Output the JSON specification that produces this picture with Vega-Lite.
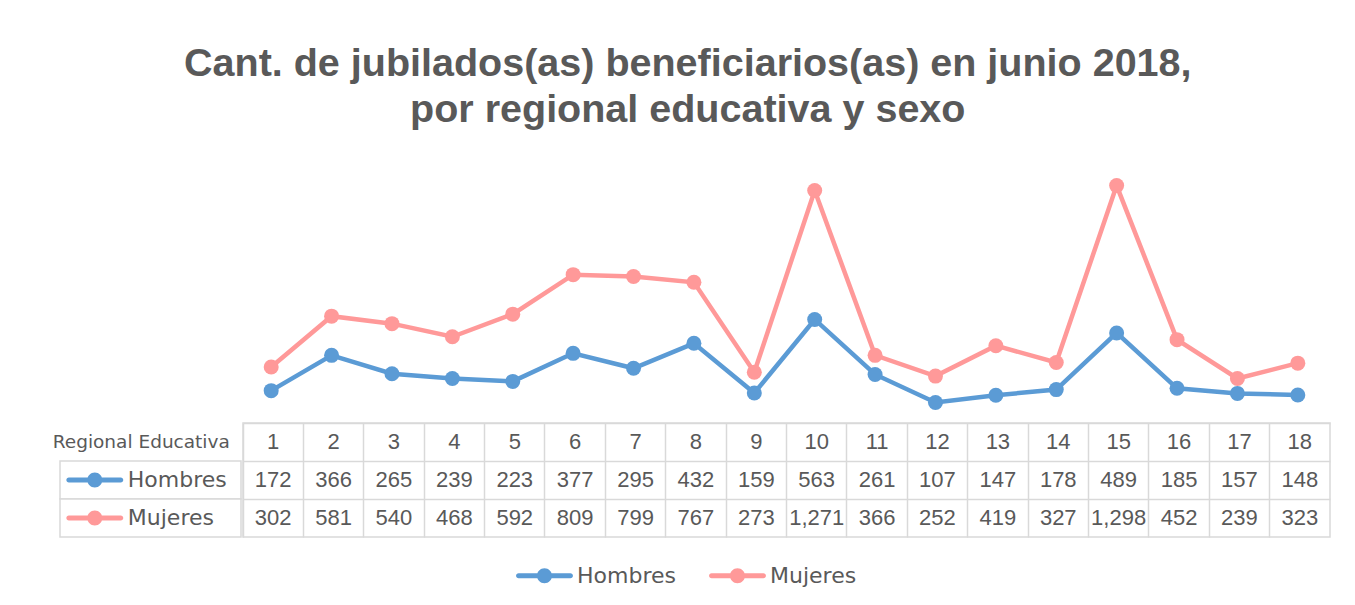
{
  "$schema": "https://vega.github.io/schema/vega-lite/v6.json",
  "padding": {"left": 52, "top": 43, "right": 10, "bottom": 10},
  "background": "white",
  "datasets": {
    "wide": [
      {"region": 1, "Hombres": 172, "Mujeres": 302},
      {"region": 2, "Hombres": 366, "Mujeres": 581},
      {"region": 3, "Hombres": 265, "Mujeres": 540},
      {"region": 4, "Hombres": 239, "Mujeres": 468},
      {"region": 5, "Hombres": 223, "Mujeres": 592},
      {"region": 6, "Hombres": 377, "Mujeres": 809},
      {"region": 7, "Hombres": 295, "Mujeres": 799},
      {"region": 8, "Hombres": 432, "Mujeres": 767},
      {"region": 9, "Hombres": 159, "Mujeres": 273},
      {"region": 10, "Hombres": 563, "Mujeres": 1271},
      {"region": 11, "Hombres": 261, "Mujeres": 366},
      {"region": 12, "Hombres": 107, "Mujeres": 252},
      {"region": 13, "Hombres": 147, "Mujeres": 419},
      {"region": 14, "Hombres": 178, "Mujeres": 327},
      {"region": 15, "Hombres": 489, "Mujeres": 1298},
      {"region": 16, "Hombres": 185, "Mujeres": 452},
      {"region": 17, "Hombres": 157, "Mujeres": 239},
      {"region": 18, "Hombres": 148, "Mujeres": 323}
    ]
  },
  "title": {
    "text": ["Cant. de jubilados(as) beneficiarios(as) en junio 2018,", "por regional educativa y sexo"],
    "font": "Liberation Sans",
    "fontSize": 39.5,
    "fontWeight": "bold",
    "color": "#595959",
    "lineHeight": 46,
    "anchor": "middle",
    "offset": 37,
    "dx": -4
  },
  "config": {
    "view": {"stroke": null},
    "concat": {"spacing": 0}
  },
  "spacing": 0,
  "vconcat": [
    {
      "spacing": 0,
      "hconcat": [
        {
          "width": 181,
          "height": 255,
          "data": {"values": [{}]},
          "mark": {"type": "text", "text": ""},
          "encoding": {}
        },
        {
          "width": 1087,
          "height": 255,
          "data": {"name": "wide"},
          "transform": [{"fold": ["Hombres", "Mujeres"], "as": ["sexo", "value"]}],
          "mark": {"type": "line", "strokeWidth": 4.5, "point": {"filled": true, "size": 225, "opacity": 1}},
          "encoding": {
            "x": {"field": "region", "type": "ordinal", "scale": {"type": "point", "padding": 0.5}, "axis": null},
            "y": {"field": "value", "type": "quantitative", "scale": {"domain": [0, 1400]}, "axis": null},
            "color": {
              "field": "sexo",
              "type": "nominal",
              "scale": {"domain": ["Hombres", "Mujeres"], "range": ["#5B9BD5", "#FF9999"]},
              "legend": {
                "orient": "none",
                "legendX": 456,
                "legendY": 380,
                "direction": "horizontal",
                "title": null,
                "symbolType": "M-0.91,-0.088 L0.91,-0.088 A0.088,0.088 0 0,1 0.91,0.088 L-0.91,0.088 A0.088,0.088 0 0,1 -0.91,-0.088 Z M0.263,0 A0.263,0.263 0 1,1 -0.263,0 A0.263,0.263 0 1,1 0.263,0 Z",
                "symbolSize": 3249,
                "symbolStrokeWidth": 0,
                "symbolOpacity": 1,
                "labelFont": "DejaVu Sans",
                "labelFontSize": 22,
                "labelColor": "#595959",
                "labelOffset": 4,
                "columnPadding": 33,
                "encode": {"symbols": {"update": {"fill": {"scale": "color", "field": "value"}, "opacity": {"value": 1}}}}
              }
            }
          }
        }
      ]
    },
    {
      "spacing": 0,
      "hconcat": [
        {
          "width": 181,
          "height": 114,
          "data": {"values": [{"sexo": "Hombres"}, {"sexo": "Mujeres"}]},
          "encoding": {
            "y": {
              "field": "sexo",
              "type": "nominal",
              "scale": {"type": "band", "domain": ["Regional Educativa", "Hombres", "Mujeres"], "paddingInner": 0, "paddingOuter": 0},
              "axis": null
            }
          },
          "layer": [
            {"mark": {"type": "rect", "fill": "white", "stroke": "#d9d9d9", "strokeWidth": 1.5}},
            {
              "mark": {
                "type": "point",
                "shape": "M-0.91,-0.088 L0.91,-0.088 A0.088,0.088 0 0,1 0.91,0.088 L-0.91,0.088 A0.088,0.088 0 0,1 -0.91,-0.088 Z M0.263,0 A0.263,0.263 0 1,1 -0.263,0 A0.263,0.263 0 1,1 0.263,0 Z",
                "filled": true,
                "size": 3249,
                "opacity": 1
              },
              "encoding": {
                "x": {"datum": "key", "type": "nominal", "scale": {"type": "point", "domain": ["key", "end"], "padding": 0.3125}, "axis": null},
                "color": {"field": "sexo", "type": "nominal", "legend": null}
              }
            },
            {
              "mark": {"type": "text", "align": "left", "dx": 33, "font": "DejaVu Sans", "fontSize": 22, "color": "#595959"},
              "encoding": {
                "x": {"datum": "key", "type": "nominal"},
                "text": {"field": "sexo"}
              }
            },
            {
              "data": {"values": [{"label": "Regional Educativa"}]},
              "mark": {"type": "text", "align": "right", "dx": 135, "font": "DejaVu Sans", "fontSize": 18.5, "color": "#595959"},
              "encoding": {
                "x": {"datum": "key", "type": "nominal"},
                "y": {"field": "label", "type": "nominal"},
                "text": {"field": "label"}
              }
            }
          ]
        },
        {
          "width": 1087,
          "height": 114,
          "view": {"stroke": "#d9d9d9", "strokeWidth": 1.5},
          "data": {"name": "wide"},
          "encoding": {
            "x": {
              "field": "region",
              "type": "ordinal",
              "scale": {"type": "band", "paddingInner": 0, "paddingOuter": 0},
              "axis": {"grid": true, "bandPosition": 0, "domain": false, "ticks": false, "labels": false, "title": null, "gridColor": "#d9d9d9", "gridWidth": 1.5}
            }
          },
          "layer": [
            {
              "mark": {"type": "text", "font": "Liberation Sans", "fontSize": 22, "color": "#595959"},
              "encoding": {
                "y": {
                  "datum": "Regional Educativa",
                  "type": "nominal",
                  "scale": {"type": "band", "domain": ["Regional Educativa", "Hombres", "Mujeres"], "paddingInner": 0, "paddingOuter": 0},
                  "axis": {"grid": true, "bandPosition": 0, "domain": false, "ticks": false, "labels": false, "title": null, "gridColor": "#d9d9d9", "gridWidth": 1.5}
                },
                "text": {"field": "region"}
              }
            },
            {
              "transform": [{"fold": ["Hombres", "Mujeres"], "as": ["sexo", "value"]}],
              "mark": {"type": "text", "font": "Liberation Sans", "fontSize": 22, "color": "#595959"},
              "encoding": {
                "y": {"field": "sexo", "type": "nominal"},
                "text": {"field": "value", "type": "quantitative", "format": ",d"}
              }
            }
          ]
        }
      ]
    }
  ]
}
